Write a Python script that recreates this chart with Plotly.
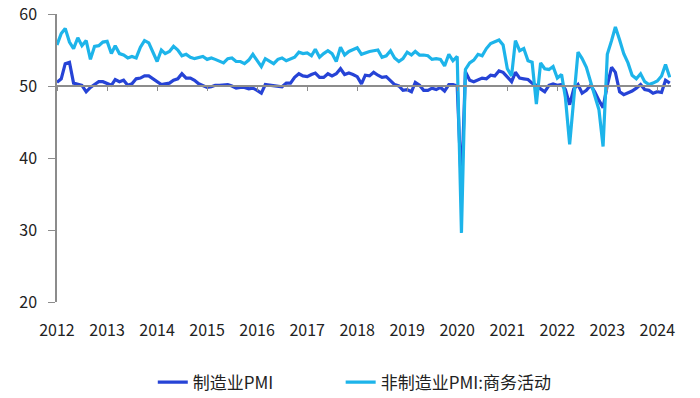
import plotly.graph_objects as go
import pandas as pd

months = pd.date_range("2012-01-01", "2024-04-01", freq="MS").strftime("%Y-%m-%d").tolist()

mfg_pmi = [
    50.5, 51.0, 53.1, 53.3, 50.4, 50.2, 50.1, 49.2, 49.8, 50.2, 50.6, 50.6,
    50.4, 50.1, 50.9, 50.6, 50.8, 50.1, 50.3, 51.0, 51.1, 51.4, 51.4, 51.0,
    50.5, 50.2, 50.3, 50.4, 50.8, 51.0, 51.7, 51.1, 51.1, 50.8, 50.3, 50.1,
    49.8, 49.9, 50.1, 50.1, 50.2, 50.2, 50.0, 49.7, 49.8, 49.8, 49.6, 49.7,
    49.4, 49.0, 50.2, 50.1, 50.1, 50.0, 49.9, 50.4, 50.4, 51.2, 51.7, 51.4,
    51.3, 51.6, 51.8, 51.2, 51.2, 51.7, 51.4, 51.7, 52.4, 51.6, 51.8, 51.6,
    51.3, 50.3, 51.5, 51.4, 51.9, 51.5, 51.2, 51.3, 50.8, 50.2, 50.0, 49.4,
    49.5, 49.2, 50.5, 50.1, 49.4, 49.4, 49.7, 49.5, 49.8, 49.3, 50.2, 50.2,
    50.0, 35.7, 52.0, 50.8, 50.6, 50.9, 51.1, 51.0, 51.5, 51.4, 52.1, 51.9,
    51.3, 50.6, 51.9, 51.1, 51.0, 50.9, 50.4, 50.1, 49.6, 49.2, 50.1, 50.3,
    50.1, 50.2, 49.5, 47.4, 49.6, 50.2, 49.0, 49.4, 50.1, 49.2, 48.0, 47.0,
    50.1, 52.6, 51.9, 49.2, 48.8, 49.0, 49.3, 49.7, 50.2, 49.5, 49.4, 49.0,
    49.2, 49.1, 50.8, 50.4,
]

nonmfg_pmi = [
    55.7, 57.3, 58.0, 56.1, 55.2, 56.7, 55.6, 56.3, 53.7, 55.5, 55.6, 56.1,
    56.2, 54.5, 55.6, 54.5, 54.3, 53.9, 54.1, 53.9, 55.4, 56.3, 56.0, 54.6,
    53.4, 55.0, 54.5, 54.8, 55.5, 55.0, 54.2, 54.4, 54.0, 53.8, 53.9, 54.1,
    53.7, 53.9, 53.7, 53.4, 53.2, 53.8, 53.9, 53.4, 53.4, 53.1, 53.6, 54.4,
    53.5, 52.7, 53.8, 53.5, 53.1, 53.7, 53.9, 53.5, 53.7, 54.0, 54.7, 54.5,
    54.6, 54.2, 55.1, 54.0, 54.5, 54.9, 54.5, 53.4, 55.4, 54.3, 54.8, 55.0,
    55.3, 54.4, 54.6, 54.8, 54.9, 55.0, 54.0, 54.2, 54.9, 53.9, 53.4, 53.8,
    54.7, 54.3, 54.8, 54.3, 54.3, 54.2, 53.7, 53.8, 53.7, 52.8, 54.4, 53.5,
    54.1, 29.6, 52.3, 53.2, 53.6, 54.4, 54.2, 55.2, 55.9, 56.2, 56.4, 55.7,
    52.4, 51.4, 56.3, 54.9, 55.2, 53.5, 53.3, 47.5, 53.2, 52.4, 52.3, 52.7,
    51.1, 51.6, 48.4, 41.9, 47.8, 54.7, 53.8, 52.6, 50.6, 48.7, 46.7, 41.6,
    54.4, 56.3, 58.2, 56.4, 54.5, 53.2, 51.5, 51.0, 51.7, 50.6, 50.2, 50.4,
    50.7, 51.4, 53.0, 51.2,
]

year_ticks = [f"{y}-01-01" for y in range(2012, 2025)]
year_labels = [str(y) for y in range(2012, 2025)]

x_range = ["2012-01-01", "2024-04-10"]
y_range = [20, 60]

FONT = "Noto Sans CJK SC"
DARK = "#2643d6"
LIGHT = "#1db4ea"
AXIS = "#8c8c8c"

fig = go.Figure()
fig.add_trace(go.Scatter(x=months, y=mfg_pmi, mode="lines", name="制造业PMI",
                         line=dict(color=DARK, width=3.2), legend="legend"))
fig.add_trace(go.Scatter(x=months, y=nonmfg_pmi, mode="lines", name="非制造业PMI:商务活动",
                         line=dict(color=LIGHT, width=3.2), legend="legend2"))
# carrier for the axis line drawn at the 50 level
fig.add_trace(go.Scatter(x=[months[0]], y=[50], xaxis="x2", yaxis="y", mode="lines",
                         showlegend=False, hoverinfo="skip", line=dict(color="rgba(0,0,0,0)")))

legend_style = dict(orientation="h", xanchor="left", y=-0.28, yanchor="middle",
                    font=dict(size=17, family=FONT, color="#222222"),
                    itemwidth=30, bgcolor="rgba(0,0,0,0)")

fig.update_layout(
    width=700, height=398,
    margin=dict(l=57, r=29, t=14, b=96, autoexpand=False),
    paper_bgcolor="white", plot_bgcolor="white",
    font=dict(family=FONT, size=14, color="#222222"),
    showlegend=True,
    legend=dict(x=0.156, **legend_style),
    legend2=dict(x=0.462, **legend_style),
    xaxis=dict(type="date", range=x_range, tickvals=year_ticks, ticktext=year_labels,
               showline=False, showgrid=False, zeroline=False, automargin=False,
               ticks="outside", ticklen=14, tickcolor="rgba(0,0,0,0)",
               tickfont=dict(size=16, family=FONT, color="#222222")),
    xaxis2=dict(type="date", matches="x", overlaying="x", anchor="free", position=0.75,
                tickvals=year_ticks, showticklabels=False, showgrid=False, zeroline=False,
                showline=True, linecolor=AXIS, linewidth=1.5, automargin=False,
                ticks="outside", ticklen=4, tickcolor=AXIS, tickwidth=1),
    yaxis=dict(range=y_range, dtick=10, showgrid=False, zeroline=False, automargin=False,
               showline=True, linecolor=AXIS, linewidth=1.5,
               ticks="outside", ticklen=7, tickcolor=AXIS, tickwidth=1,
               ticklabelstandoff=8,
               tickfont=dict(size=16, family=FONT, color="#222222")),
)

fig.write_html("out.html", config={"displayModeBar": False},
               post_script="document.body.style.margin='0';document.body.style.overflow='hidden';")
